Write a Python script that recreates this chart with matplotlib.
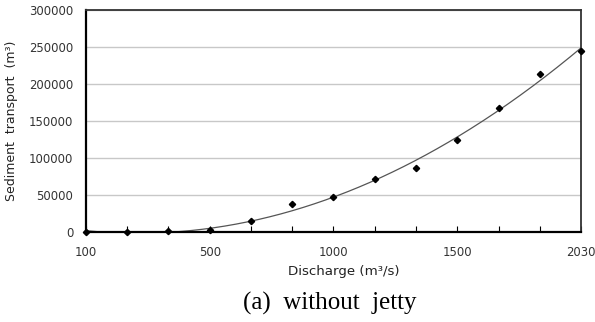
import numpy as np
import matplotlib.pyplot as plt

# 13 discharge steps, equally spaced on the category axis
x_labels = ['100', '', '', '500', '', '', '1000', '', '', '1500', '', '', '2030']
sediment = [0, 0, 1500, 2500, 15200, 37700, 47200, 71400, 86200, 124000, 167100, 213300, 244300]

idx = np.arange(len(sediment))

# 2nd order trend line (like the excel one), hidden below zero
coef = np.polyfit(idx, sediment, 2)
xs = np.linspace(0, len(sediment) - 1, 400)
ys = np.polyval(coef, xs)
ys[ys < 0] = np.nan

fig = plt.figure(figsize=(5.95, 3.22), dpi=100)
ax = fig.add_axes([0.1445, 0.2786, 0.832, 0.6914])

ax.plot(xs, ys, color='#555555', lw=0.9, zorder=2)
ax.plot(idx, sediment, 'D', color='black', ms=3.2, zorder=3, clip_on=False)

ax.set_xlim(0, len(sediment) - 1)
ax.set_ylim(0, 300000)
ax.set_yticks(np.arange(0, 300001, 50000))
ax.set_xticks(idx)
ax.set_xticklabels(x_labels)
ax.yaxis.grid(True, color='#c8c8c8', lw=1)
ax.set_axisbelow(True)

ax.tick_params(axis='x', direction='in', length=4, width=0.8, colors='black',
               labelcolor='#333333', labelsize=8.4, pad=10)
ax.tick_params(axis='y', length=0, labelcolor='#333333', labelsize=8.4, pad=9)

for s in ['left', 'bottom']:
    ax.spines[s].set_linewidth(1.6)
    ax.spines[s].set_color('black')
for s in ['top', 'right']:
    ax.spines[s].set_linewidth(1.3)
    ax.spines[s].set_color('#333333')

ax.set_xlabel('Discharge (m³/s)', fontsize=9.6, color='#222222', labelpad=4)
ax.xaxis.label.set_x(0.52)
ax.set_ylabel('Sediment  transport  (m³)', fontsize=9, color='#222222', labelpad=8)

fig.text(0.555, 0.058, '(a)  without  jetty', ha='center', va='center',
         family='Liberation Serif', fontsize=18)

fig.savefig('out.png', dpi=100)
